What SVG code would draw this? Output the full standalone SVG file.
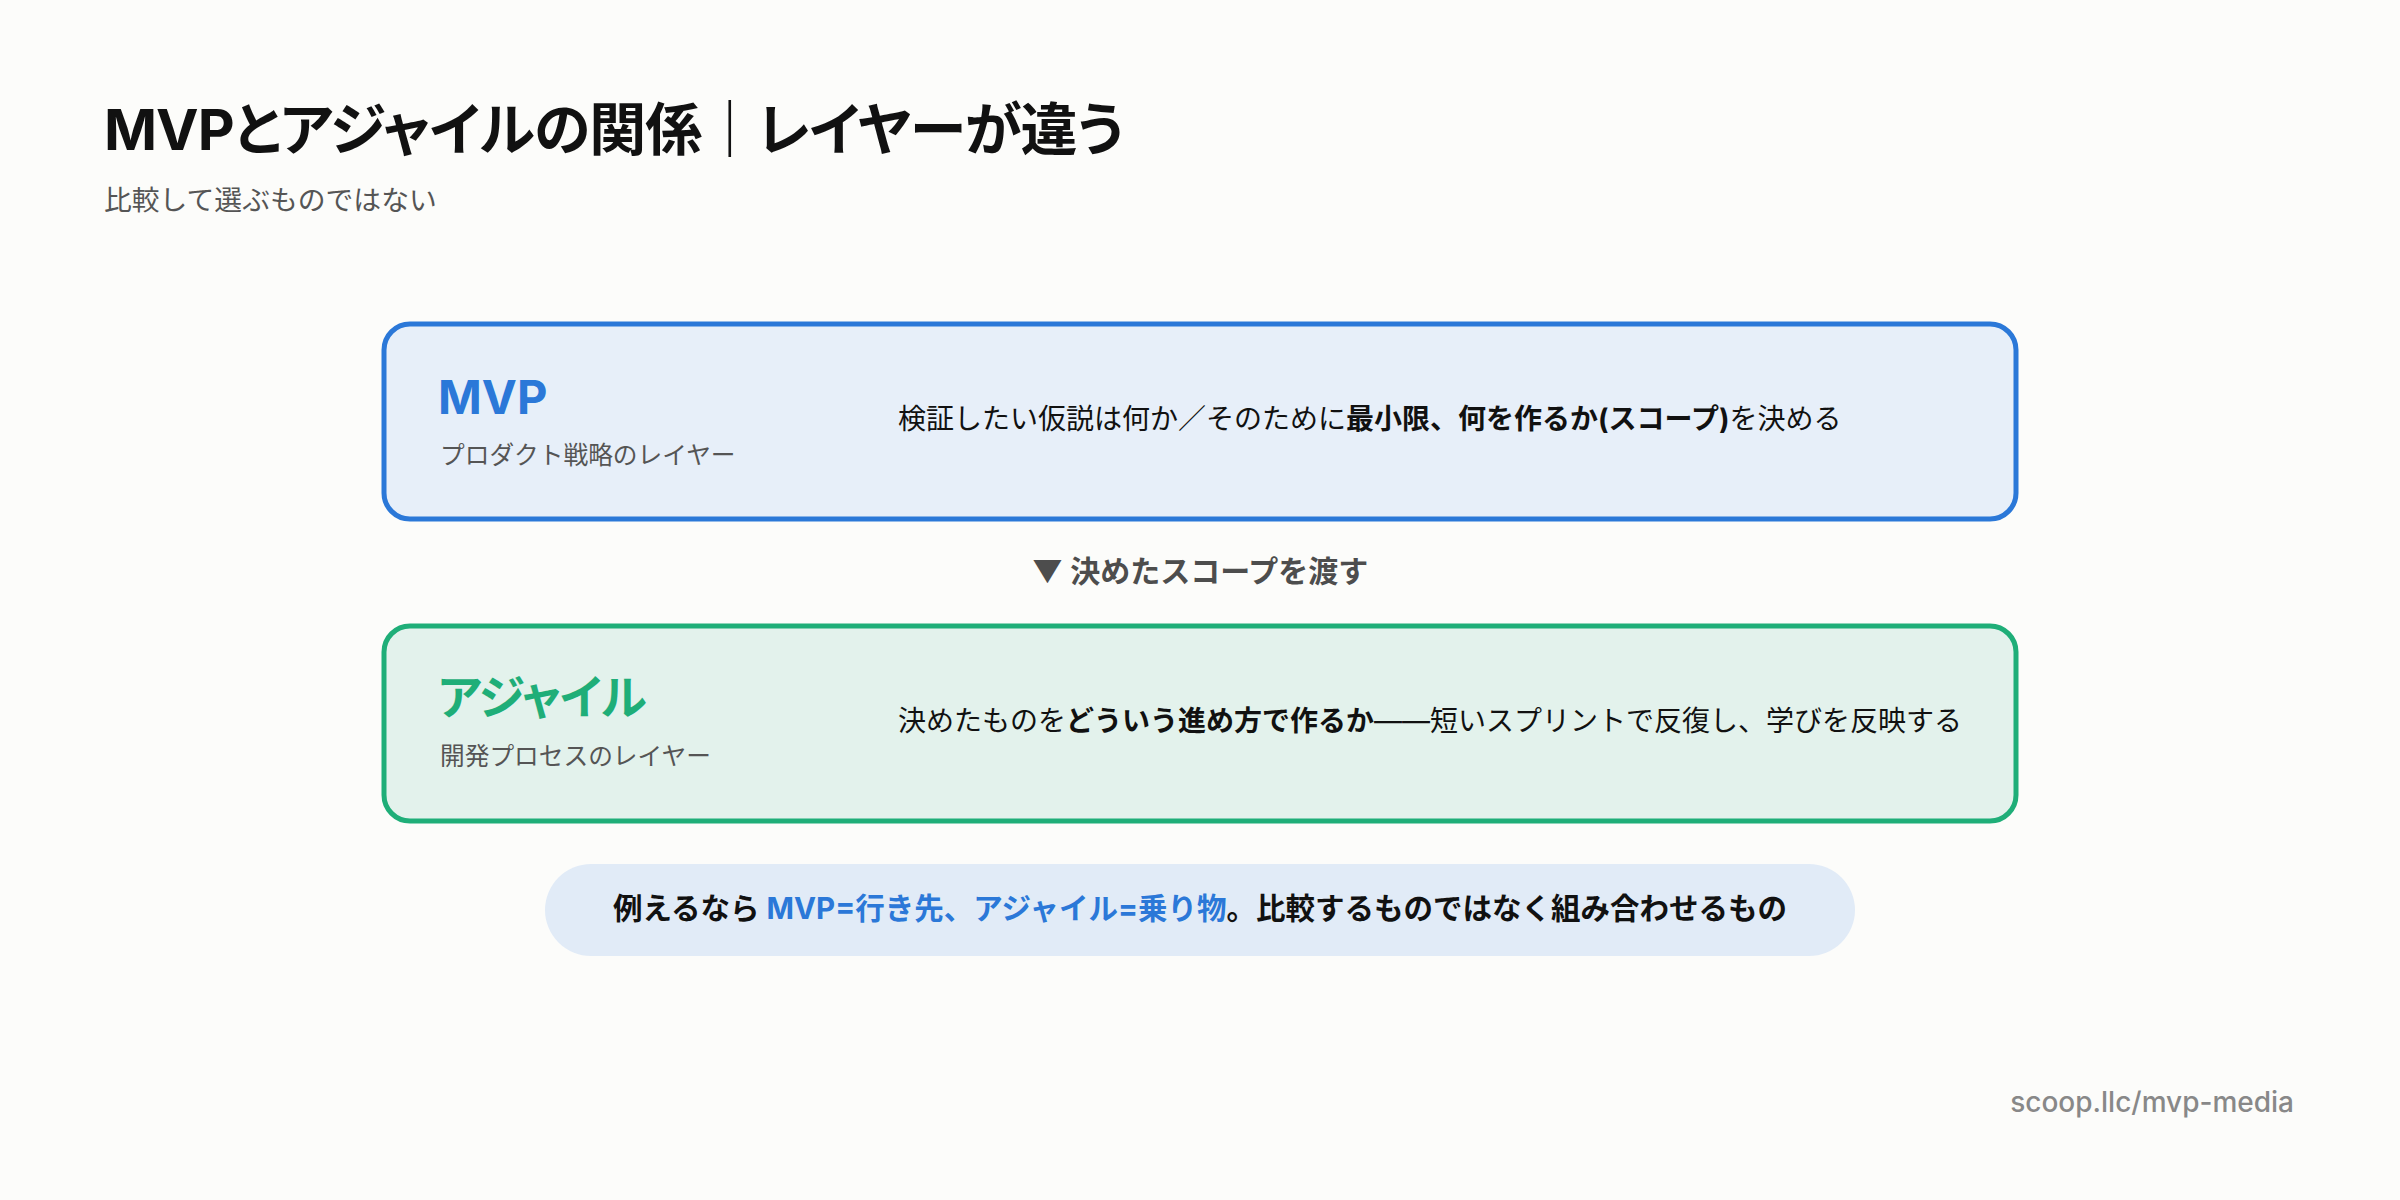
<svg xmlns="http://www.w3.org/2000/svg" width="2400" height="1200" viewBox="0 0 2400 1200">
<style>
text{font-family:Inter,"Noto Sans CJK JP",sans-serif;}
.title{font-size:57px;font-weight:700;fill:#111;font-feature-settings:"palt";letter-spacing:-1px;}
.subtitle{font-size:27.8px;fill:#555;}
.box-mvp{fill:#e7eff9;stroke:#2b78d8;stroke-width:5;}
.box-agile{fill:#e3f2ec;stroke:#1fae78;stroke-width:5;}
.label{font-size:47px;font-weight:700;font-feature-settings:"palt";}
.agile-label{letter-spacing:-1.2px;}
.sub{font-size:24.7px;fill:#555;}
.desc{font-size:28px;fill:#111;}
.b{font-weight:700;}
.flow{font-size:30px;font-weight:700;fill:#4d4d4d;}
.pill{fill:#e1ebf7;}
.pilltext{font-size:29.5px;font-weight:700;fill:#111;}
.blue{fill:#2b78d8;}
.footer{font-size:28px;font-weight:500;fill:#888;}
</style>
<rect width="2400" height="1200" fill="#fcfcfa"/>
<g id="header">
<text class="title" x="104" y="150">MVPとアジャイルの関係｜レイヤーが違う</text>
<text class="subtitle" x="104" y="210">比較して選ぶものではない</text>
</g>
<g id="node-mvp">
<rect class="box-mvp" x="384" y="324" width="1632" height="195" rx="26"/>
<text class="label blue" x="438" y="414">MVP</text>
<text class="sub" x="440" y="464">プロダクト戦略のレイヤー</text>
<text class="desc" x="898" y="429">検証したい仮説は何か／そのために<tspan class="b">最小限、何を作るか(スコープ)</tspan>を決める</text>
</g>
<g id="connectors">
<text class="flow" x="1200" y="582" text-anchor="middle">▼ 決めたスコープを渡す</text>
</g>
<g id="node-agile">
<rect class="box-agile" x="384" y="626" width="1632" height="195" rx="26"/>
<text class="label agile-label" x="438" y="714" fill="#1fae78">アジャイル</text>
<text class="sub" x="440" y="765">開発プロセスのレイヤー</text>
<text class="desc" x="898" y="731">決めたものを<tspan class="b">どういう進め方で作るか</tspan>——短いスプリントで反復し、学びを反映する</text>
</g>
<g id="summary">
<rect class="pill" x="545" y="864" width="1310" height="92" rx="46"/>
<text class="pilltext" x="1200" y="919" text-anchor="middle">例えるなら <tspan class="blue">MVP=行き先、アジャイル=乗り物</tspan>。比較するものではなく組み合わせるもの</text>
</g>
<text class="footer" x="2294" y="1112" text-anchor="end">scoop.llc/mvp-media</text>
</svg>
